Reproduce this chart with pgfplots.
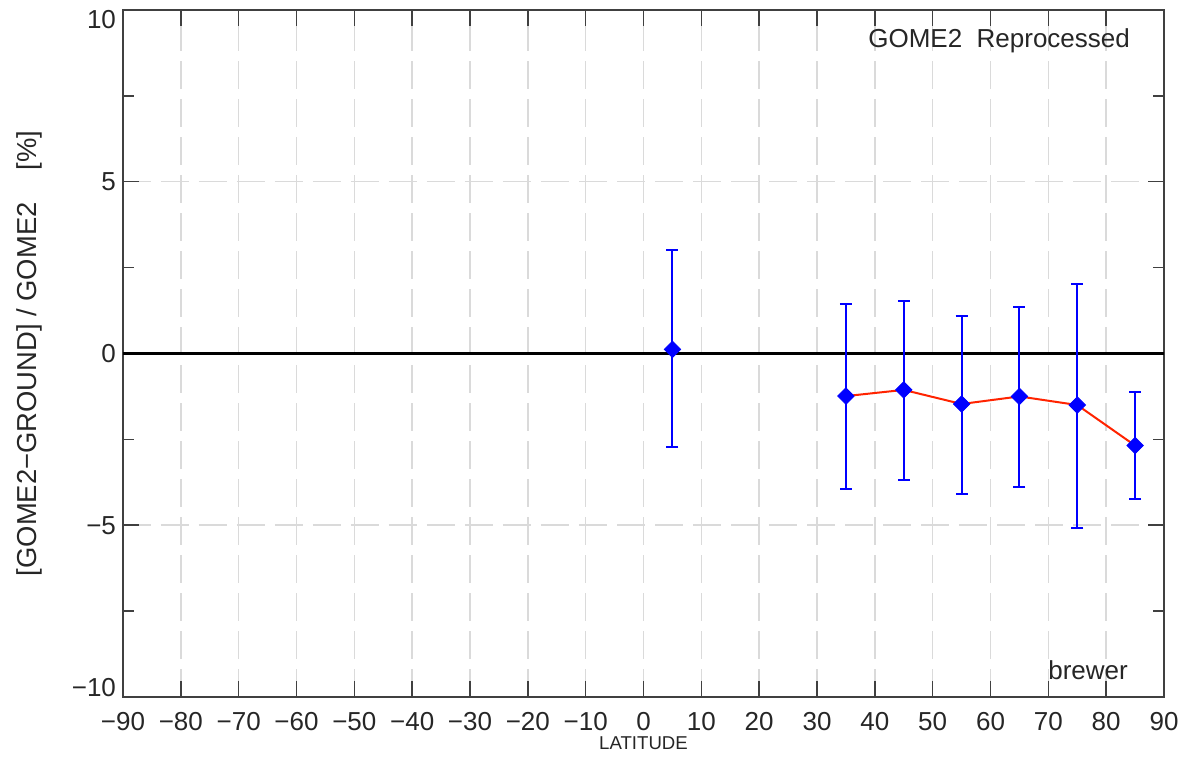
\documentclass[border=0pt]{standalone}
\usepackage{fontspec}
\setmainfont{Liberation Sans}
\usepackage{pgfplots}
\pgfplotsset{compat=1.18}
\definecolor{barblue}{RGB}{0,0,255}
\definecolor{linered}{RGB}{255,35,0}
\definecolor{gridgray}{RGB}{218,218,218}

\pgfplotstableread{
x   y      ep    em
5   0.12   2.88  2.85
35  -1.24  2.69  2.70
45  -1.06  2.58  2.61
55  -1.47  2.57  2.63
65  -1.25  2.61  2.63
75  -1.50  3.53  3.58
85  -2.68  1.57  1.57
}\gometable

\begin{document}
\begin{tikzpicture}
\begin{axis}[
  scale only axis, width=520.5pt, height=343.5pt,
  xmin=-90, xmax=90, ymin=-10, ymax=10,
  xtick={-90,-80,...,90},
  xticklabels={−90,−80,−70,−60,−50,−40,−30,−20,−10,0,10,20,30,40,50,60,70,80,90},
  ytick={-10,-5,0,5,10},
  yticklabels={\raisebox{0pt}[0pt][0pt]{−10},−5,0,5,\raisebox{-9.1pt}[0pt][0pt]{10}},
  minor y tick num=1,
  tick align=inside,
  tick pos=both,
  major tick length=8pt, minor tick length=5.5pt,
  grid=major,
  major grid style={gridgray, line width=0.75pt, dash pattern=on 14pt off 5pt},
  axis line style={black!75, line width=0.75pt},
  tick style={black!75, line width=0.75pt},
  ticklabel style={font=\fontsize{13}{15}\selectfont, text=black!85},
  xticklabel style={yshift=-4pt},
  xlabel={LATITUDE},
  xlabel style={at={(axis description cs:0.5,0)}, anchor=center, yshift=-23pt,
    font=\fontsize{9.3}{11}\selectfont, text=black!85},
  ylabel={[GOME2−GROUND] / GOME2\hspace{16pt}[\%]},
  ylabel style={at={(axis description cs:-0.0903,0.5)}, anchor=center,
    font=\fontsize{13.7}{15}\selectfont, text=black!85},
  clip=false,
]
\addplot[black, line width=1.5pt, forget plot] coordinates {(-90,0) (90,0)};
\addplot[linered, line width=1pt, no marks] coordinates {
  (35,-1.24) (45,-1.06) (55,-1.47) (65,-1.25) (75,-1.50) (85,-2.68)
};
\addplot[only marks, barblue, mark=square*, mark size=2.9pt,
  mark options={rotate=45, barblue},
  error bars/.cd, y dir=both, y explicit,
  error mark=-,
  error bar style={barblue, line width=1pt},
  error mark options={barblue, line width=1pt, mark size=3pt, rotate=90}]
  table[x=x, y=y, y error plus=ep, y error minus=em] {\gometable};
\node[anchor=base east, font=\fontsize{13}{15}\selectfont, text=black!85]
  at (axis description cs:0.974,0.9447) {GOME2\ \ Reprocessed};
\node[anchor=base east, font=\fontsize{13}{15}\selectfont, text=black!85]
  at (axis description cs:0.972,0.026) {brewer};
\end{axis}
\pgfresetboundingbox
\path ([xshift=-61.5pt, yshift=-32pt]current axis.south west)
  rectangle ([xshift=11pt, yshift=5pt]current axis.north east);
\end{tikzpicture}
\end{document}
